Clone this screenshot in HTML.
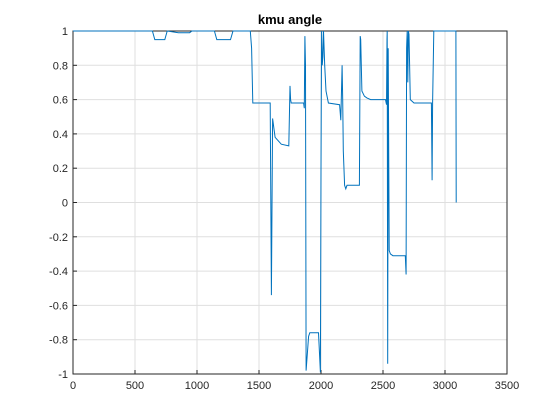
<!DOCTYPE html>
<html><head><meta charset="utf-8"><style>
body{margin:0;background:#fff;}
svg{display:block;font-family:"Liberation Sans",Arial,sans-serif;}
</style></head><body>
<svg id="c" width="560" height="420" xmlns="http://www.w3.org/2000/svg">
<rect x="0" y="0" width="560" height="420" fill="#fff"/>
<text x="290" y="24" text-anchor="middle" font-size="13" font-weight="bold" fill="#000">kmu angle</text>
<g id="grid"></g>
<g id="axes"></g>
<path id="line" fill="none" stroke="#0072bd" stroke-width="1"/>
</svg>
<script>
const xTicks=[0,500,1000,1500,2000,2500,3000,3500];
const yTicks=[-1,-0.8,-0.6,-0.4,-0.2,0,0.2,0.4,0.6,0.8,1];
const yTickLabels=["-1","-0.8","-0.6","-0.4","-0.2","0","0.2","0.4","0.6","0.8","1"];
const sampleX=[0,640,660,740,760,850,870,940,960,1140,1160,1270,1290,1430,1440,1450,1590,1600,1610,1630,1680,1740,1750,1755,1760,1860,1865,1870,1875,1880,1900,1910,1980,1995,2000,2005,2010,2015,2020,2030,2040,2060,2150,2160,2170,2175,2180,2190,2200,2210,2310,2316,2320,2330,2350,2370,2400,2520,2528,2532,2534,2538,2542,2550,2560,2580,2680,2686,2690,2695,2700,2705,2710,2720,2750,2890,2896,2900,2910,3088,3090];
const sampleY=[1,1,0.95,0.95,1,0.99,0.99,0.99,1,1,0.95,0.95,1,1,0.9,0.58,0.58,-0.54,0.49,0.38,0.34,0.33,0.68,0.6,0.58,0.58,0.55,0.97,0.8,-0.98,-0.78,-0.76,-0.76,-0.99,0.2,1,0.8,0.85,1,0.8,0.65,0.58,0.57,0.48,0.8,0.6,0.3,0.1,0.08,0.1,0.1,0.97,0.95,0.65,0.62,0.61,0.6,0.6,0.57,0.95,1,-0.94,0.9,-0.28,-0.3,-0.31,-0.31,-0.42,0.9,1,0.7,1,0.98,0.6,0.58,0.58,0.13,0.58,1,1,0];
const L=73,R=507,T=31,B=374;
const xs=v=>L+(v-0)/3500*(R-L);
const ys=v=>B-(v+1)/2*(B-T);
const NS="http://www.w3.org/2000/svg";
const grid=document.getElementById('grid'),axes=document.getElementById('axes');
function mk(tag,attrs,parent){const e=document.createElementNS(NS,tag);for(const k in attrs)e.setAttribute(k,attrs[k]);parent.appendChild(e);return e;}
const box=mk('rect',{x:L,y:T,width:R-L,height:B-T,fill:'none',stroke:'#262626','stroke-width':1},axes);


xTicks.forEach(t=>{
 const x=xs(t);
 const g=mk('line',{x1:x,x2:x,y1:T,y2:B,stroke:'#dfdfdf','stroke-width':1},grid);
 
 
 const tk=mk('line',{x1:x,x2:x,y1:B,y2:B-4,stroke:'#262626'},axes);
 
 
 const tx=mk('text',{x:x,y:B+15,'text-anchor':'middle','font-size':11,fill:'#262626'},axes);
 tx.textContent=String(t);
 
 
});
yTicks.forEach((t,i)=>{
 const y=ys(t);
 const g=mk('line',{x1:L,x2:R,y1:y,y2:y,stroke:'#dfdfdf','stroke-width':1},grid);
 
 
 const tk=mk('line',{x1:L,x2:L+4,y1:y,y2:y,stroke:'#262626'},axes);
 
 
 const tx=mk('text',{x:L-5,y:y+4,'text-anchor':'end','font-size':11,fill:'#262626'},axes);
 tx.textContent=yTickLabels[i];
 
 
});
document.getElementById('line').setAttribute('d',sampleX.map((v,i)=>(i?'L':'M')+xs(v).toFixed(1)+' '+ys(sampleY[i]).toFixed(1)).join(' '));
</script>
</body></html>
